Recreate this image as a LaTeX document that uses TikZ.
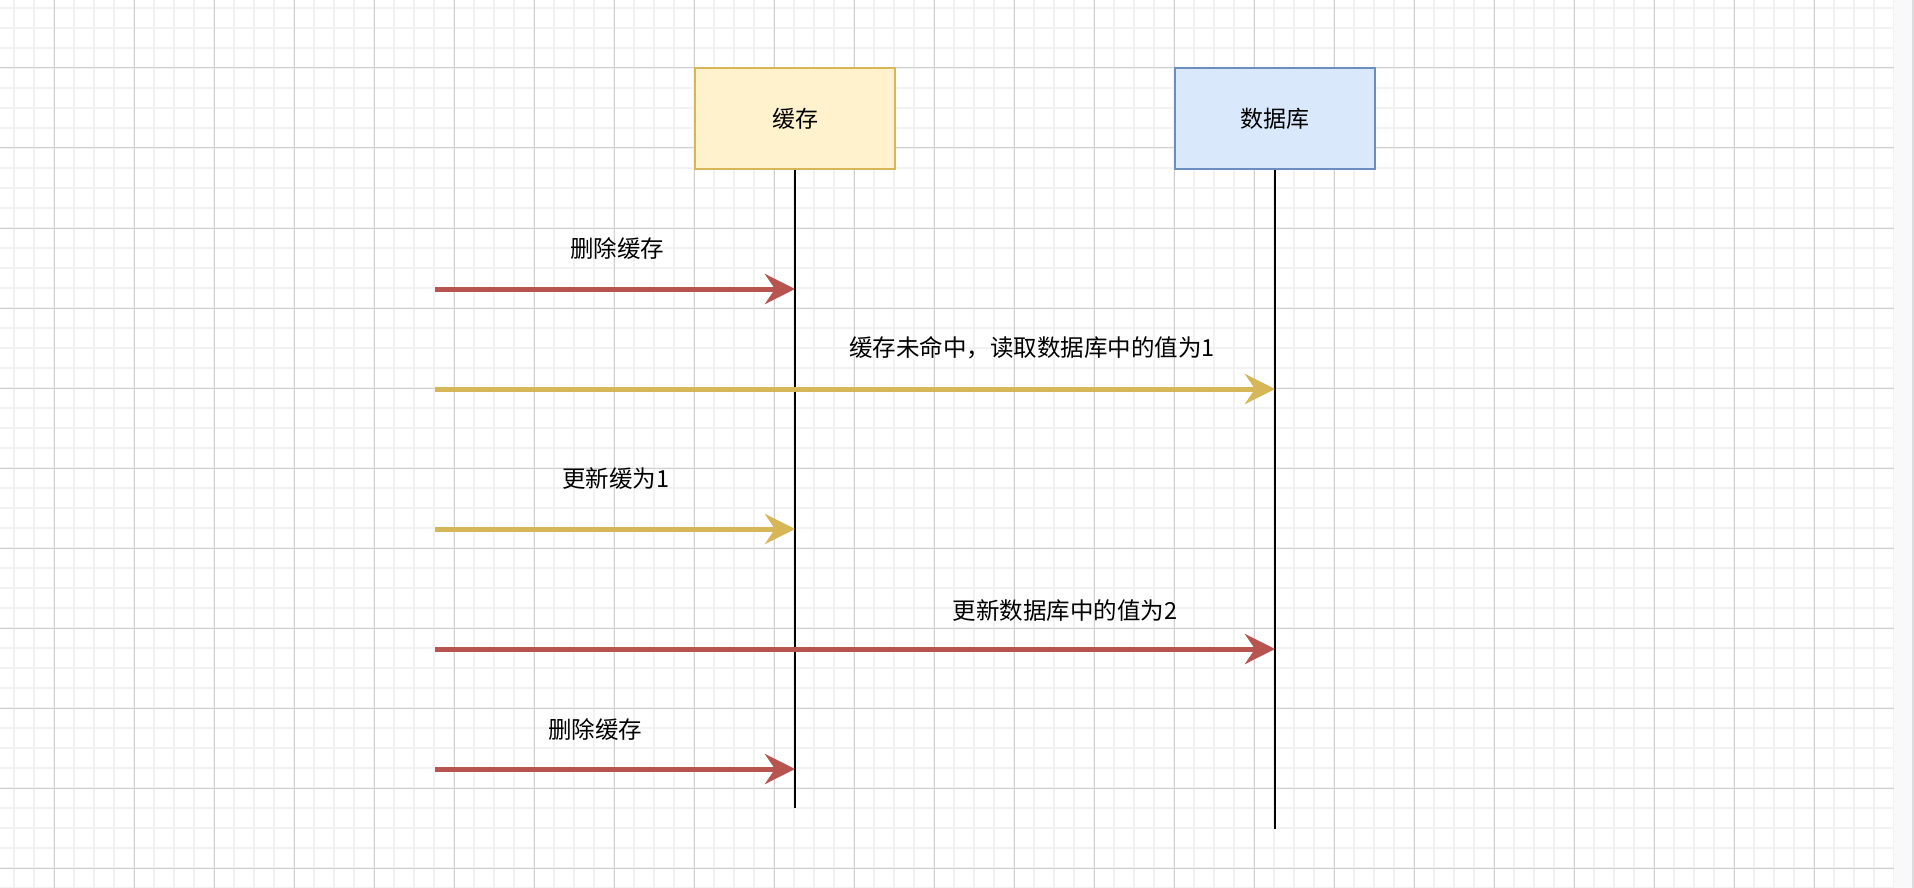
\documentclass[tikz,border=0pt]{standalone}
\usepackage{fontspec}
\setmainfont{Noto Sans CJK SC}
\usetikzlibrary{arrows.meta}
\definecolor{gridminor}{HTML}{F2F2F2}
\definecolor{gridmajor}{HTML}{D0D0D0}
\definecolor{cachefill}{HTML}{FFF2CC}
\definecolor{cachedraw}{HTML}{D6B656}
\definecolor{dbfill}{HTML}{DAE8FC}
\definecolor{dbdraw}{HTML}{6C8EBF}
\definecolor{redarrow}{HTML}{B85450}
\definecolor{yellowarrow}{HTML}{D6B656}
\definecolor{stripfill}{HTML}{F9F9F9}
\definecolor{stripline}{HTML}{DCDCE0}
\tikzset{
  actor/.style={draw, line width=2pt, minimum width=200pt, minimum height=100pt, inner sep=0pt, font=\fontsize{23}{28}\selectfont},
  lifeline/.style={draw=black, line width=2pt},
  msg/.style={line width=5pt, -{Stealth[length=30pt, width=30pt, inset=10pt]}},
  msglabel/.style={inner sep=0pt, font=\fontsize{23.5}{28}\selectfont, text=black},
}
\begin{document}
\begin{tikzpicture}[x=1pt, y=-1pt]
\useasboundingbox (0,0) rectangle (1914,888);
\fill[white] (0,0) rectangle (1914,888);
% grid
\foreach \x in {14,34,...,1894} \draw[gridminor, line width=1.3pt] (\x,0) -- (\x,888);
\foreach \y in {8,28,...,888} \draw[gridminor, line width=1.3pt] (0,\y) -- (1894,\y);
\foreach \x in {54,134,...,1894} \draw[gridmajor, line width=1pt] (\x,0) -- (\x,888);
\foreach \y in {68,148,...,888} \draw[gridmajor, line width=1pt] (0,\y) -- (1894,\y);
% right strip
\fill[stripfill] (1894,0) rectangle (1912,888);
\fill[stripline] (1912,0) rectangle (1914,888);
% actors
\node[actor, fill=cachefill, draw=cachedraw] (cache) at (795,118.5) {缓存};
\node[actor, fill=dbfill, draw=dbdraw] (db) at (1275,118.5) {数据库};
\coordinate (cacheEnd) at (795,808);
\coordinate (dbEnd) at (1275,829);
\draw[lifeline] (cache.south) -- (cacheEnd);
\draw[lifeline] (db.south) -- (dbEnd);
% message starts
\coordinate (m1) at (435,289);
\coordinate (m2) at (435,389);
\coordinate (m3) at (435,529);
\coordinate (m4) at (435,649);
\coordinate (m5) at (435,769);
\draw[msg, redarrow] (m1) -- (m1 -| cache.south);
\draw[msg, yellowarrow] (m2) -- (m2 -| db.south);
\draw[msg, yellowarrow] (m3) -- (m3 -| cache.south);
\draw[msg, redarrow] (m4) -- (m4 -| db.south);
\draw[msg, redarrow] (m5) -- (m5 -| cache.south);
% labels
\node[msglabel] (l1) at (617,249) {删除缓存};
\node[msglabel] (l2) at (1032,348) {缓存未命中，读取数据库中的值为1};
\node[msglabel] (l3) at (616,479) {更新缓为1};
\node[msglabel] (l4) at (1065,611) {更新数据库中的值为2};
\node[msglabel] (l5) at (595,730) {删除缓存};
\end{tikzpicture}
\end{document}
